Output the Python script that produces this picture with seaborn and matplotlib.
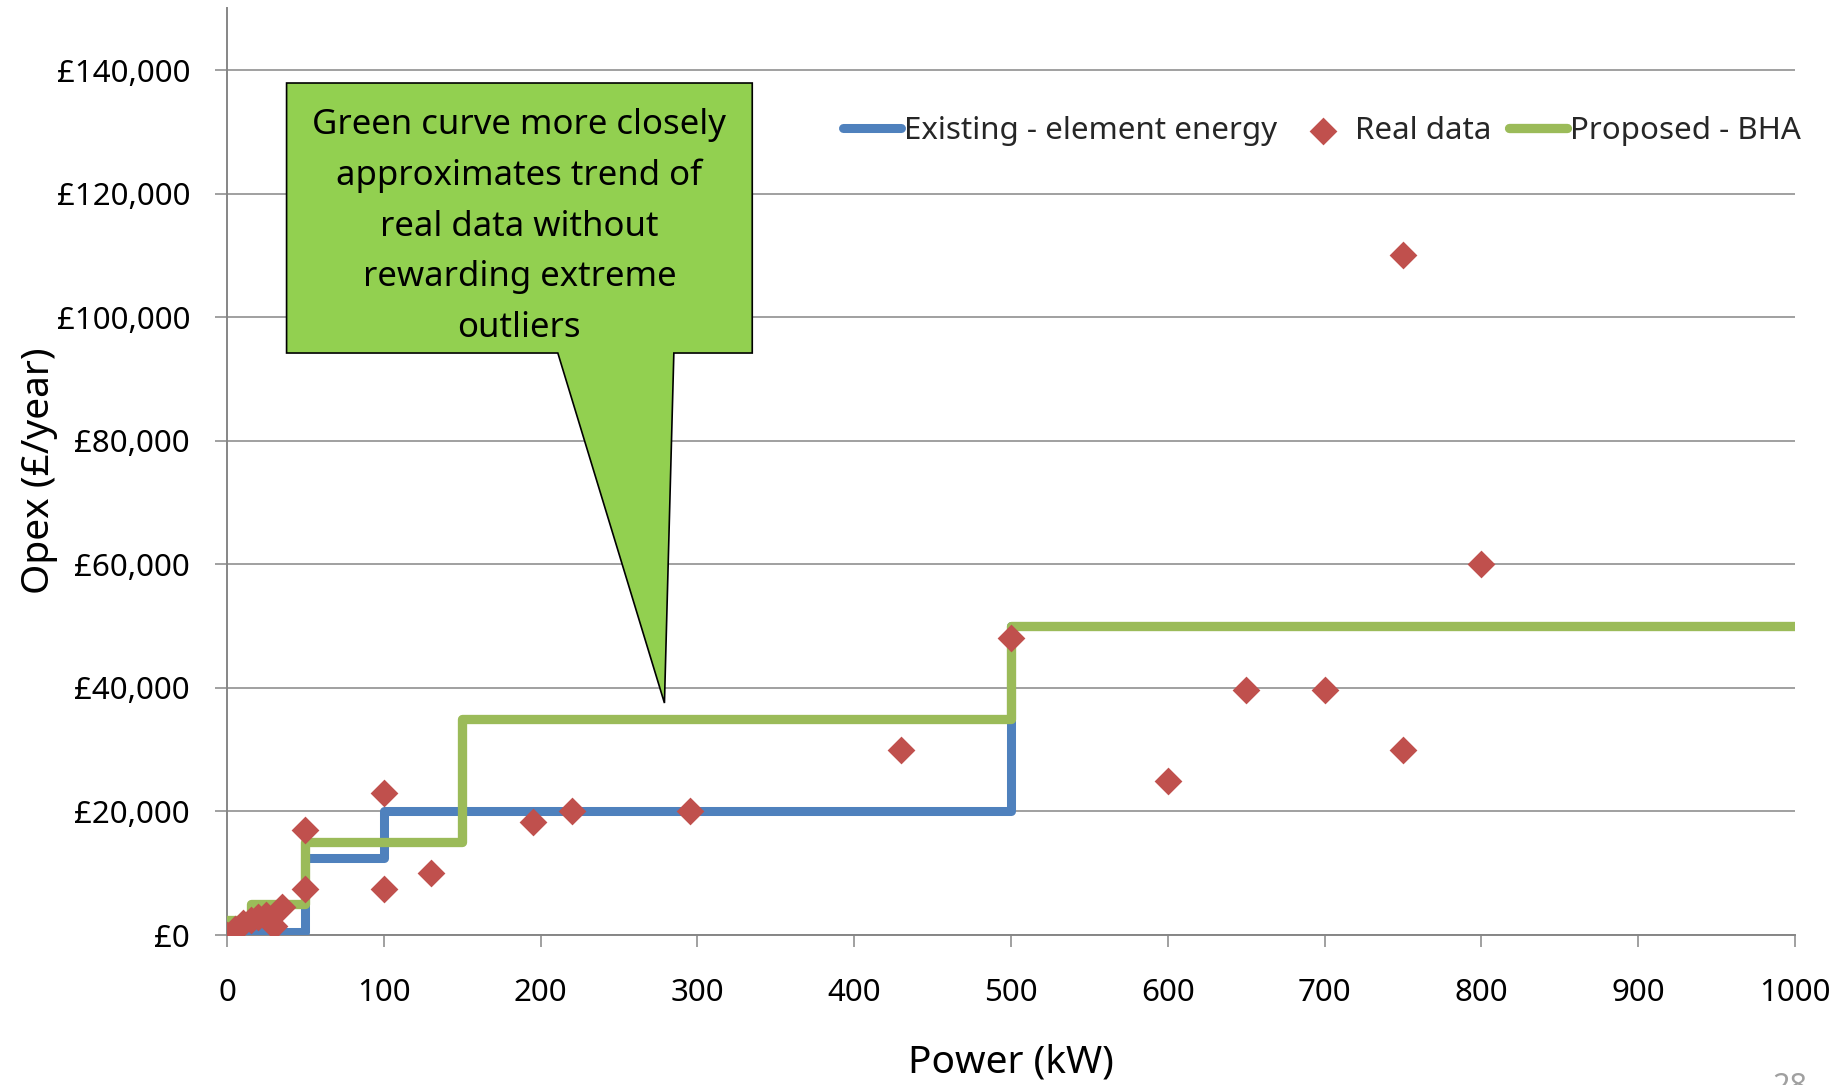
import matplotlib
matplotlib.use("Agg")
import matplotlib.pyplot as plt
import seaborn as sns
import pandas as pd
from matplotlib.patches import Polygon
from matplotlib.ticker import FuncFormatter

# ---------------- data ----------------
existing_x = [0, 50, 100, 500, 1000]
existing_y = [500, 12500, 20000, 50000, 50000]

proposed_x = [0, 15, 50, 150, 500, 1000]
proposed_y = [2500, 5000, 15000, 35000, 50000, 50000]

real_x = [0, 5, 10, 15, 20, 25, 30, 35, 50, 50, 100, 100, 130, 195, 220, 295,
          430, 500, 600, 650, 700, 750, 750, 800]
real_y = [0, 1000, 2000, 2500, 3000, 3200, 1500, 4500, 17000, 7500, 23000, 7500,
          10000, 18300, 20000, 20000, 30000, 48000, 25000, 39600, 39600, 30000,
          110000, 60000]

x_ticks = [0, 100, 200, 300, 400, 500, 600, 700, 800, 900, 1000]
y_ticks = [0, 20000, 40000, 60000, 80000, 100000, 120000, 140000]

series_labels = ["Existing - element energy", "Real data", "Proposed - BHA"]
callout_text = ("Green curve more closely\napproximates trend of\nreal data without\n"
                "rewarding extreme\noutliers")

# ---------------- style ----------------
sns.set_style("white")
plt.rcParams["font.family"] = ["Noto Sans", "DejaVu Sans"]

BLUE = "#4F81BD"
RED = "#C0504D"
GREEN = "#9BBB59"
CALLOUT = "#92D050"
GRID = "#868686"

fig = plt.figure(figsize=(18.47, 10.85), dpi=100)
ax = fig.add_axes([0.1229, 0.1382, 0.8489, 0.8542])

df_exist = pd.DataFrame({"x": existing_x, "y": existing_y})
df_prop = pd.DataFrame({"x": proposed_x, "y": proposed_y})
df_real = pd.DataFrame({"x": real_x, "y": real_y})

sns.lineplot(data=df_exist, x="x", y="y", ax=ax, color=BLUE, linewidth=6.5,
             drawstyle="steps-post", label=series_labels[0],
             solid_capstyle="round", solid_joinstyle="round", zorder=4,
             estimator=None, sort=False)
sns.scatterplot(data=df_real, x="x", y="y", ax=ax, color=RED, marker="D",
                s=200, linewidth=0, label=series_labels[1], zorder=6)
sns.lineplot(data=df_prop, x="x", y="y", ax=ax, color=GREEN, linewidth=6.7,
             drawstyle="steps-post", label=series_labels[2],
             solid_capstyle="round", solid_joinstyle="round", zorder=5,
             estimator=None, sort=False)

handles, labels = ax.get_legend_handles_labels()
if ax.get_legend() is not None:
    ax.get_legend().remove()

ax.set_xlim(0, 1000)
ax.set_ylim(0, 150000)
ax.set_xticks(x_ticks)
ax.set_yticks(y_ticks)
ax.yaxis.set_major_formatter(FuncFormatter(lambda v, p: "£{:,.0f}".format(v)))

ax.grid(axis="y", color=GRID, linewidth=1.1, zorder=0)
ax.grid(axis="x", visible=False)
ax.set_axisbelow(True)
for side in ["top", "right"]:
    ax.spines[side].set_visible(False)
for side in ["left", "bottom"]:
    ax.spines[side].set_color(GRID)
    ax.spines[side].set_linewidth(1.4)
    ax.spines[side].set_zorder(1)

ax.tick_params(axis="y", which="major", direction="out", length=8.6, width=1.1,
               color=GRID, pad=18, labelsize=22.5, labelcolor="black", left=True)
ax.tick_params(axis="x", which="major", direction="out", length=8.6, width=1.1,
               color=GRID, pad=22, labelsize=22.5, labelcolor="black", bottom=True)

ax.set_xlabel("Power (kW)", fontsize=28, color="black")
ax.set_ylabel("Opex (£/year)", fontsize=28, color="black")
ax.xaxis.set_label_coords(0.5, -0.1165)
ax.yaxis.set_label_coords(-0.1078, 0.5007)

# ---------------- callout ----------------
callout = Polygon([(38, 137900), (335, 137900), (335, 94200), (285, 94200),
                   (279, 37550), (211, 94200), (38, 94200)], closed=True,
                  facecolor=CALLOUT, edgecolor="black", linewidth=1.2,
                  zorder=3, clip_on=False)
ax.add_patch(callout)
ax.text(186.5, 114700, callout_text, ha="center", va="center", fontsize=25,
        linespacing=1.64, color="black", zorder=7)

# ---------------- legend ----------------
fig.legend(handles, labels, loc="center left", bbox_to_anchor=(0.4564, 0.879),
           ncol=3, frameon=False, fontsize=22.5, handlelength=1.85,
           handletextpad=0.1, columnspacing=0.55, borderpad=0, borderaxespad=0,
           markerscale=1.0)

fig.text(1790 / 1847, 1 - 1072 / 1085, "28", ha="center", va="top",
         fontsize=22, color="#A0A0A0")

fig.savefig("out.png", dpi=100)
